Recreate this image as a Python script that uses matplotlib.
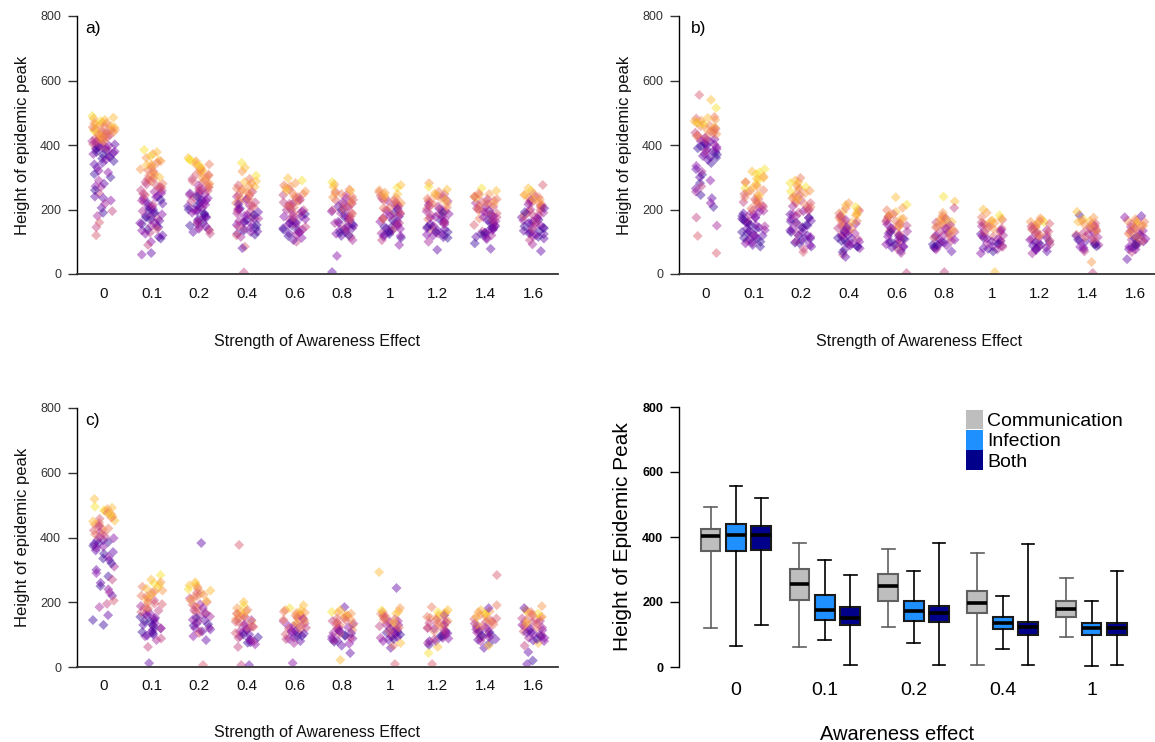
import numpy as np
import matplotlib
matplotlib.use("Agg")
import matplotlib.pyplot as plt
from matplotlib.patches import Patch

plt.rcParams['font.family'] = ['Liberation Sans', 'DejaVu Sans']

# ---------------- data ----------------
strengths = ["0", "0.1", "0.2", "0.4", "0.6", "0.8", "1", "1.2", "1.4", "1.6"]

# panel a) peak heights per strength group; colour code per point (0 = purple ... 9 = yellow)
peak_a = [
    [490, 485, 482, 478, 475, 470, 468, 465, 462, 458, 455, 452, 450, 447, 445, 442, 440, 437, 435, 432, 430, 427, 425, 422, 420, 417, 415, 412, 410, 405,
     402, 398, 395, 392, 388, 385, 380, 375, 370, 362, 355, 350, 345,
     330, 315, 300, 290, 280, 272, 260, 250, 240, 228, 218, 205, 195, 190, 180, 160, 145, 120,
     468, 460, 455, 448, 444, 438, 433, 428, 423, 418, 413, 408, 403, 398, 393, 388, 383, 378, 372, 366, 358, 340, 320, 310, 270, 235],
    [385, 378, 372, 365, 360, 352, 345, 340, 335, 330, 325, 318, 312, 305, 300, 295, 290, 285, 280, 275, 270, 265, 260,
     255, 250, 245, 240, 235, 230, 225, 220, 215, 210, 205, 200, 195, 190, 185, 180, 175, 170, 165, 160, 155, 150, 145, 140, 135, 128, 120, 110, 100, 90, 65, 60,
     350, 338, 322, 308, 298, 288, 278, 268, 258, 248, 238, 228, 218, 208, 198, 188, 178, 168, 158, 148, 138, 125, 115],
    [360, 355, 350, 345, 340, 335, 330, 325, 320, 315, 310, 305, 300, 295, 290, 285, 280, 275, 270, 265, 260, 255,
     250, 245, 240, 235, 230, 225, 220, 215, 210, 205, 200, 195, 190, 185, 180, 175, 170, 165, 160, 155, 150, 145, 140, 135, 130, 125,
     262, 248, 228, 212, 198,
     352, 338, 322, 308, 298, 288, 278, 268, 258, 248, 238, 228, 218, 208, 198, 188, 178, 168, 158, 148, 138],
    [345, 330, 318, 305, 295, 288, 282, 275, 270, 265, 260, 255, 250, 245, 240, 236, 232, 228, 224, 220, 216, 212, 208, 204, 200, 196, 192, 188, 184, 180,
     176, 172, 168, 164, 160, 156, 152, 148, 144, 140, 135, 130, 125, 120, 115, 85, 80, 5,
     285, 272, 262, 252, 242, 232, 222, 212, 202, 192, 182, 172, 162, 152, 142, 132, 122],
    [297, 290, 282, 275, 268, 262, 256, 250, 245, 240, 235, 230, 226, 222, 218, 214, 210, 206, 202, 198, 194, 190, 186, 182, 178, 174, 170, 166, 162, 158,
     154, 150, 146, 142, 138, 134, 130, 126, 122, 118, 112, 105, 100,
     272, 258, 248, 238, 228, 218, 208, 198, 188, 178, 168, 158, 148, 138, 128],
    [285, 278, 270, 262, 255, 250, 245, 240, 235, 230, 226, 222, 218, 214, 210, 206, 202, 198, 194, 190, 186, 182, 178, 174, 170, 166, 162, 158, 154, 150,
     146, 142, 138, 134, 130, 125, 120, 115, 105, 56, 6,
     258, 248, 238, 228, 218, 208, 198, 188, 178, 168, 158, 148, 138, 128, 118],
    [276, 268, 260, 254, 248, 242, 238, 234, 230, 226, 222, 218, 214, 210, 206, 202, 198, 194, 190, 186, 182, 178, 174, 170, 166, 162, 158, 154, 150, 146,
     142, 138, 134, 130, 126, 122, 118, 112, 105, 90,
     252, 244, 236, 228, 220, 212, 204, 196, 188, 180, 172, 164, 156, 148, 140, 132, 124, 116],
    [282, 270, 262, 255, 248, 243, 238, 234, 230, 226, 222, 218, 214, 210, 206, 202, 198, 194, 190, 186, 182, 178, 174, 170, 166, 162, 158, 154, 150, 146,
     142, 138, 134, 130, 126, 122, 118, 112, 100, 75,
     250, 242, 234, 226, 218, 210, 202, 194, 186, 178, 170, 162, 154, 146, 138, 130, 122, 114],
    [266, 258, 250, 245, 240, 236, 232, 228, 224, 220, 216, 212, 208, 204, 200, 196, 192, 188, 184, 180, 176, 172, 168, 164, 160, 156, 152, 148, 144, 140,
     136, 132, 128, 124, 120, 115, 108, 95, 78,
     248, 240, 232, 224, 216, 208, 200, 192, 184, 176, 168, 160, 152, 144, 136, 128, 120, 112],
    [276, 266, 258, 250, 245, 240, 236, 232, 228, 224, 220, 216, 212, 208, 204, 200, 196, 192, 188, 184, 180, 176, 172, 168, 164, 160, 156, 152, 148, 144,
     140, 136, 132, 128, 124, 120, 115, 105, 92, 71,
     246, 238, 230, 222, 214, 206, 198, 190, 182, 174, 166, 158, 150, 142, 134, 126, 118, 110],
]
tone_a = [
    "987897687687675675674653564352" "1203102101201" "120312041231403545" "78679568467352413021012031",
    "98797867867576856465364" "32512031420130210412031524102412" "78675645342312013021021",
    "8978697687567465736452" "13021402130120310241032514" "32102" "978675645342312013021",
    "9879687586746537254613502413025103120413" "02153514" "87675645342312010",
    "8976857647536425361425031420312041302130" "214" "786574635241302",
    "9786574635724613502461302513024103120432" "1" "867564534231201",
    "8976857463572461350241360241302510312042" "786574635241302102",
    "7986574683572461350241360241302510312031" "867564534231201021",
    "986758467356247135024613025130241031201" "786574635241302102",
    "5896746835724613502461302513024103120431" "867564534231201021",
]

# panel b)
peak_b = [
    [555, 540, 515, 487, 482, 478, 474, 470, 466, 462, 458, 454, 450, 446, 442, 438, 434, 430, 426,
     422, 418, 414, 410, 406, 402, 398, 394, 390, 386, 382, 378, 372, 366, 360, 354,
     344, 335, 325, 318, 308, 300, 290, 282, 272, 265, 255, 245, 235, 220, 208, 175, 150, 118, 65,
     484, 476, 468, 460, 452, 444, 436, 428, 420, 412, 404, 396, 388, 380, 370, 362],
    [325, 318, 310, 302, 296, 290, 284, 278, 272, 266, 260, 254, 248, 243, 238, 233, 228, 223, 218, 213, 208, 203, 198, 193,
     188, 184, 180, 176, 172, 168, 164, 160, 156, 152, 148, 144, 140, 136, 132, 128, 124, 120, 116, 112, 108, 104, 100, 95, 90, 85,
     315, 298, 285, 270, 258, 245, 232, 220, 208, 196, 185, 174, 163, 152, 141, 130, 119, 108, 97],
    [298, 290, 282, 275, 268, 262, 256, 250, 245, 240, 235, 230, 225, 220, 215, 210, 205, 200,
     195, 190, 185, 180, 175, 170, 165, 160, 155, 150, 145, 140, 135, 130, 125, 120, 115, 110, 105, 100, 95, 90, 85, 78, 68,
     285, 270, 258, 245, 232, 220, 208, 196, 185, 174, 163, 152, 141, 130, 119, 108, 97],
    [220, 214, 208, 204, 200, 196, 192, 188, 184, 180, 176, 172, 168, 164, 160, 156, 152, 148, 144, 140,
     136, 132, 128, 124, 120, 116, 112, 108, 104, 100, 96, 92, 88, 84, 80, 75, 68, 60, 53,
     190, 182, 174, 166, 158, 150, 142, 134, 126, 118, 110, 102, 94, 86],
    [238, 215, 205, 198, 192, 186, 182, 178, 174, 170, 166, 162, 158, 154, 150, 146, 142, 138, 134, 130,
     126, 122, 118, 114, 110, 106, 102, 98, 94, 90, 86, 82, 78, 72, 65, 3,
     180, 172, 164, 156, 148, 140, 132, 124, 116, 108, 100, 92, 84],
    [240, 225, 205, 190, 180, 176, 172, 168, 164, 160, 156, 152, 148, 144, 140, 136, 132, 128, 124, 120,
     116, 112, 108, 104, 100, 96, 92, 88, 84, 80, 76, 70, 6,
     170, 162, 154, 146, 138, 130, 122, 114, 106, 98, 90, 82],
    [200, 190, 182, 176, 172, 168, 164, 160, 156, 152, 148, 144, 140, 136, 132, 128, 124, 120, 116, 112,
     108, 104, 100, 96, 92, 88, 84, 80, 76, 70, 64, 6,
     166, 158, 150, 142, 134, 126, 118, 110, 102, 94, 86, 78],
    [173, 168, 164, 160, 156, 152, 148, 144, 140, 136, 132, 128, 124, 120, 116, 112, 108, 104, 100, 96,
     92, 88, 84, 80, 76, 70, 64,
     162, 154, 146, 138, 130, 122, 114, 106, 98, 90, 82, 74],
    [193, 182, 175, 170, 166, 162, 158, 154, 150, 146, 142, 138, 134, 130, 126, 122, 118, 114, 110, 106,
     102, 98, 94, 90, 86, 82, 76, 70, 37, 3,
     164, 156, 148, 140, 132, 124, 116, 108, 100, 92, 84],
    [180, 176, 170, 166, 162, 158, 154, 150, 146, 142, 138, 134, 130, 126, 122, 118, 114, 110, 106, 102,
     98, 94, 90, 86, 82, 76, 68, 46,
     165, 157, 149, 141, 133, 125, 117, 109, 101, 93, 85, 77],
]
tone_b = [
    "5896578697685764756" "3241031201302101" "0213012041301204355" "8796875642102101",
    "9897896879" "6758657465" "3642" "1302104120" "3102103120" "130210" "9878675643210210102",
    "689786975864756354" "2413021031021031201302145" "89768564321021010",
    "7896758694" "7536825416" "3025130412" "031021041" "87675645321021",
    "8976857468" "3572461350" "2413025130" "214034" "8765743521021",
    "9847685794" "6385274163" "0524130210" "314" "786574352102",
    "8796857468" "3572461350" "2413024130" "28" "876546321021",
    "7869574863" "5724613502" "4130213" "786546321021",
    "8079685746" "3572461350" "2413021474" "86754362102",
    "1274685736" "8257146035" "24031241" "786546321021",
]

# panel c)
peak_c = [
    [519, 495, 488, 482, 476, 470, 464, 458, 452, 446, 440, 434, 428, 422, 416, 410, 404,
     398, 392, 386, 380, 374, 368,
     360, 350, 340, 330, 320, 310, 300, 290, 280, 270, 260, 250, 240, 230, 220, 205, 195, 185, 160, 145, 130,
     492, 484, 472, 462, 450, 438, 426, 414, 402, 392, 382, 372, 355, 335],
    [284, 270, 262, 255, 248, 242, 236, 230, 224, 218, 212, 206, 200, 194, 188, 182, 176, 170,
     165, 160, 155, 150, 145, 140, 135, 130, 125, 120, 115, 110, 105, 100, 95, 88, 83, 62, 12,
     258, 245, 232, 220, 208, 196, 185, 174, 163, 152, 141, 130, 119, 108, 97],
    [383, 262, 255, 248, 242, 236, 230, 224, 218, 212, 206, 200, 194, 188, 182, 176, 170, 164, 158, 152,
     146, 140, 134, 128, 122, 116, 110, 105, 95, 83, 6,
     252, 240, 228, 216, 204, 192, 180, 168, 156, 144, 132, 120, 110],
    [377, 201, 190, 182, 176, 170, 165, 160, 155, 150, 145, 140, 135, 130, 125, 120, 115, 110, 105, 100,
     95, 90, 85, 80, 75, 70, 62, 6, 6,
     172, 164, 156, 148, 140, 132, 124, 116, 108, 100, 92, 84, 76],
    [191, 182, 176, 171, 166, 161, 156, 151, 146, 141, 136, 131, 126, 121, 116, 111, 106, 101, 96, 91,
     86, 80, 74, 12, 168, 148, 128, 108,
     175, 167, 159, 151, 143, 135, 127, 119, 111, 103, 95, 87],
    [185, 176, 170, 165, 160, 155, 150, 146, 142, 138, 134, 130, 126, 122, 118, 114, 110, 106, 102, 98,
     94, 90, 86, 82, 78, 72, 66, 43, 22,
     168, 160, 152, 144, 136, 128, 120, 112, 104, 96, 88, 80],
    [293, 244, 182, 175, 170, 165, 160, 155, 150, 146, 142, 138, 134, 130, 126, 122, 118, 114, 110, 106,
     102, 98, 94, 90, 86, 80, 74, 66, 59, 9,
     172, 164, 156, 148, 140, 132, 124, 116, 108, 100, 92, 84],
    [185, 176, 170, 165, 160, 155, 150, 146, 142, 138, 134, 130, 126, 122, 118, 114, 110, 106, 102, 98,
     94, 90, 86, 80, 74, 68, 62, 43, 9,
     168, 160, 152, 144, 136, 128, 120, 112, 104, 96, 88, 80],
    [284, 191, 182, 176, 170, 165, 160, 155, 150, 146, 142, 138, 134, 130, 126, 122, 118, 114, 110, 106,
     102, 98, 94, 90, 86, 80, 74, 66, 59,
     172, 164, 156, 148, 140, 132, 124, 116, 108, 100, 92, 84],
    [188, 182, 176, 170, 165, 160, 155, 150, 146, 142, 138, 134, 130, 126, 122, 118, 114, 110, 106, 102,
     98, 94, 90, 86, 80, 74, 66, 46, 20, 9,
     170, 162, 154, 146, 138, 130, 122, 114, 106, 98, 90, 82],
]
tone_c = [
    "89786975867465364" "210102" "102103120410231543100" "89768576410210",
    "987968758674653645" "2103102103120124341" "987685643102101",
    "1897685764" "7536245130" "2410314521" "5" "8976856431021",
    "5897685746" "3852461350" "241302441" "8767546321021",
    "8976857463" "8524613502" "4132" "7352" "876574352102",
    "1897685746" "3852461350" "241302118" "786546321021",
    "8179685746" "3852461350" "2413028615" "867543621021",
    "6897168574" "6385246135" "024130895" "876546321021",
    "5618796857" "4638524613" "502413081" "786546321021",
    "7186957463" "8524613502" "4130284101" "867546321021",
]

# panel d) box-plot statistics
box_groups = ["0", "0.1", "0.2", "0.4", "1"]
box_types = ["Communication", "Infection", "Both"]
box_lo  = [[120, 66, 129], [61, 83, 7], [123, 73, 7], [7, 54, 7], [92, 4, 7]]
box_q1  = [[356, 358, 361], [206, 145, 128], [203, 142, 139], [167, 118, 100], [155, 100, 100]]
box_med = [[402, 407, 407], [254, 175, 152], [248, 171, 167], [198, 135, 124], [180, 121, 121]]
box_q3  = [[424, 439, 434], [302, 223, 185], [286, 202, 189], [233, 154, 139], [202, 135, 135]]
box_hi  = [[493, 557, 519], [383, 328, 283], [362, 296, 383], [350, 217, 377], [274, 202, 294]]

# ---------------- figure ----------------
W, H = 1155, 742
fig = plt.figure(figsize=(W / 100, H / 100), dpi=100)


def px_axes(x0, x1, ytop, ybot):
    return fig.add_axes([x0 / W, 1 - ybot / H, (x1 - x0) / W, (ybot - ytop) / H])


cmap = plt.get_cmap('plasma')


def spread(k, gi, pi):
    # deterministic, well-mixed horizontal spread (presentation only)
    v = np.sin(k * 12.9898 + gi * 78.233 + pi * 37.719) * 43758.5453
    return v - np.floor(v)


def scatter_panel(ax, peaks, tones, tag, pi, tagx):
    xs, ys_all, cs = [], [], []
    for gi, (ys, ts) in enumerate(zip(peaks, tones)):
        ys = np.asarray(ys, dtype=float)
        codes = np.array([int(ch) for ch in ts][:len(ys)], dtype=float)
        if len(codes) < len(ys):
            codes = np.concatenate([codes, np.full(len(ys) - len(codes), 4.0)])
        k = np.arange(len(ys))
        jit = (spread(k, gi, pi) - 0.5) * 0.48
        xs.append(gi + jit)
        ys_all.append(ys)
        cs.append(cmap(0.08 + codes / 9.0 * 0.86))
    xs = np.concatenate(xs)
    ys_all = np.concatenate(ys_all)
    cs = np.concatenate(cs)
    order = np.argsort(spread(np.arange(len(xs)), 3, pi + 5))
    ax.scatter(xs[order], ys_all[order], c=cs[order], marker='D', s=26, alpha=0.45,
               linewidths=0, zorder=2)
    ax.set_xlim(-0.56, 9.52)
    ax.set_ylim(0, 800)
    ax.set_yticks([0, 200, 400, 600, 800])
    ax.set_xticks(range(len(strengths)))
    ax.set_xticklabels(strengths)
    for s in ['top', 'right']:
        ax.spines[s].set_visible(False)
    ax.spines['left'].set_linewidth(1.0)
    ax.spines['bottom'].set_linewidth(1.3)
    ax.spines['bottom'].set_color('#333333')
    ax.tick_params(axis='x', length=0, pad=9, labelsize=11, labelcolor='#111111')
    ax.tick_params(axis='y', length=6.5, width=1.0, pad=5, labelsize=9, labelcolor='#333333',
                   color='#333333')
    ax.text(tagx, 0.95, tag, transform=ax.transAxes, fontsize=12.5, ha='left', va='center')


axA = px_axes(77, 558, 16, 274)
scatter_panel(axA, peak_a, tone_a, "a)", 0, 0.018)
axB = px_axes(679, 1160, 16, 274)
scatter_panel(axB, peak_b, tone_b, "b)", 1, 0.025)
axC = px_axes(77, 558, 408, 667)
scatter_panel(axC, peak_c, tone_c, "c)", 2, 0.018)

for xc, yc in [(317, 341), (919, 341), (317, 732)]:
    fig.text(xc / W, 1 - yc / H, "Strength of Awareness Effect", fontsize=11.5,
             ha='center', va='center', color='#111111')
for xc, yc in [(22, 145), (624, 145), (22, 537)]:
    fig.text(xc / W, 1 - yc / H, "Height of epidemic peak", fontsize=12,
             ha='center', va='center', rotation=90, color='#111111')

# ---------------- panel d) ----------------
axD = px_axes(679, 1150, 407, 667)
fills = ['#BEBEBE', '#1E90FF', '#00008B']
edges = ['#606060', '#1a1a1a', '#1a1a1a']
wcols = ['#606060', '#000000', '#000000']
centers = []
for gi in range(len(box_groups)):
    base = 1 + gi * 3.5
    centers.append(base + 1)
    for ti in range(3):
        st = dict(med=box_med[gi][ti], q1=box_q1[gi][ti], q3=box_q3[gi][ti],
                  whislo=box_lo[gi][ti], whishi=box_hi[gi][ti], fliers=[])
        axD.bxp([st], positions=[base + ti], widths=0.78, patch_artist=True,
                showfliers=False, capwidths=[0.5],
                boxprops=dict(facecolor=fills[ti], edgecolor=edges[ti], linewidth=1.5),
                medianprops=dict(color='black', linewidth=2.6),
                whiskerprops=dict(color=wcols[ti], linewidth=1.2),
                capprops=dict(color=wcols[ti], linewidth=1.2),
                manage_ticks=False)
axD.set_xlim(-0.24, 18.3)
axD.set_ylim(0, 800)
axD.set_yticks([0, 200, 400, 600, 800])
axD.set_xticks(centers)
axD.set_xticklabels(box_groups)
for s in ['top', 'right', 'bottom']:
    axD.spines[s].set_visible(False)
axD.spines['left'].set_linewidth(1.0)
axD.tick_params(axis='x', length=0, pad=11, labelsize=14)
axD.tick_params(axis='y', length=6.5, width=1.0, pad=5, labelsize=9)
for lab in axD.get_yticklabels():
    lab.set_fontweight('bold')
fig.text(622 / W, 1 - 537 / H, "Height of Epidemic Peak", fontsize=15,
         ha='center', va='center', rotation=90)
fig.text(897 / W, 1 - 734 / H, "Awareness effect", fontsize=14.5,
         ha='center', va='center')
handles = [Patch(facecolor=fills[i], edgecolor='none') for i in range(3)]
leg = axD.legend(handles, box_types, loc='upper left',
                 bbox_to_anchor=(966 / W, 1 - 410 / H), bbox_transform=fig.transFigure,
                 frameon=False, fontsize=14, handlelength=0.85, handleheight=1.15,
                 labelspacing=0.0, handletextpad=0.25, borderpad=0, borderaxespad=0)

fig.savefig("out.png", dpi=100)
